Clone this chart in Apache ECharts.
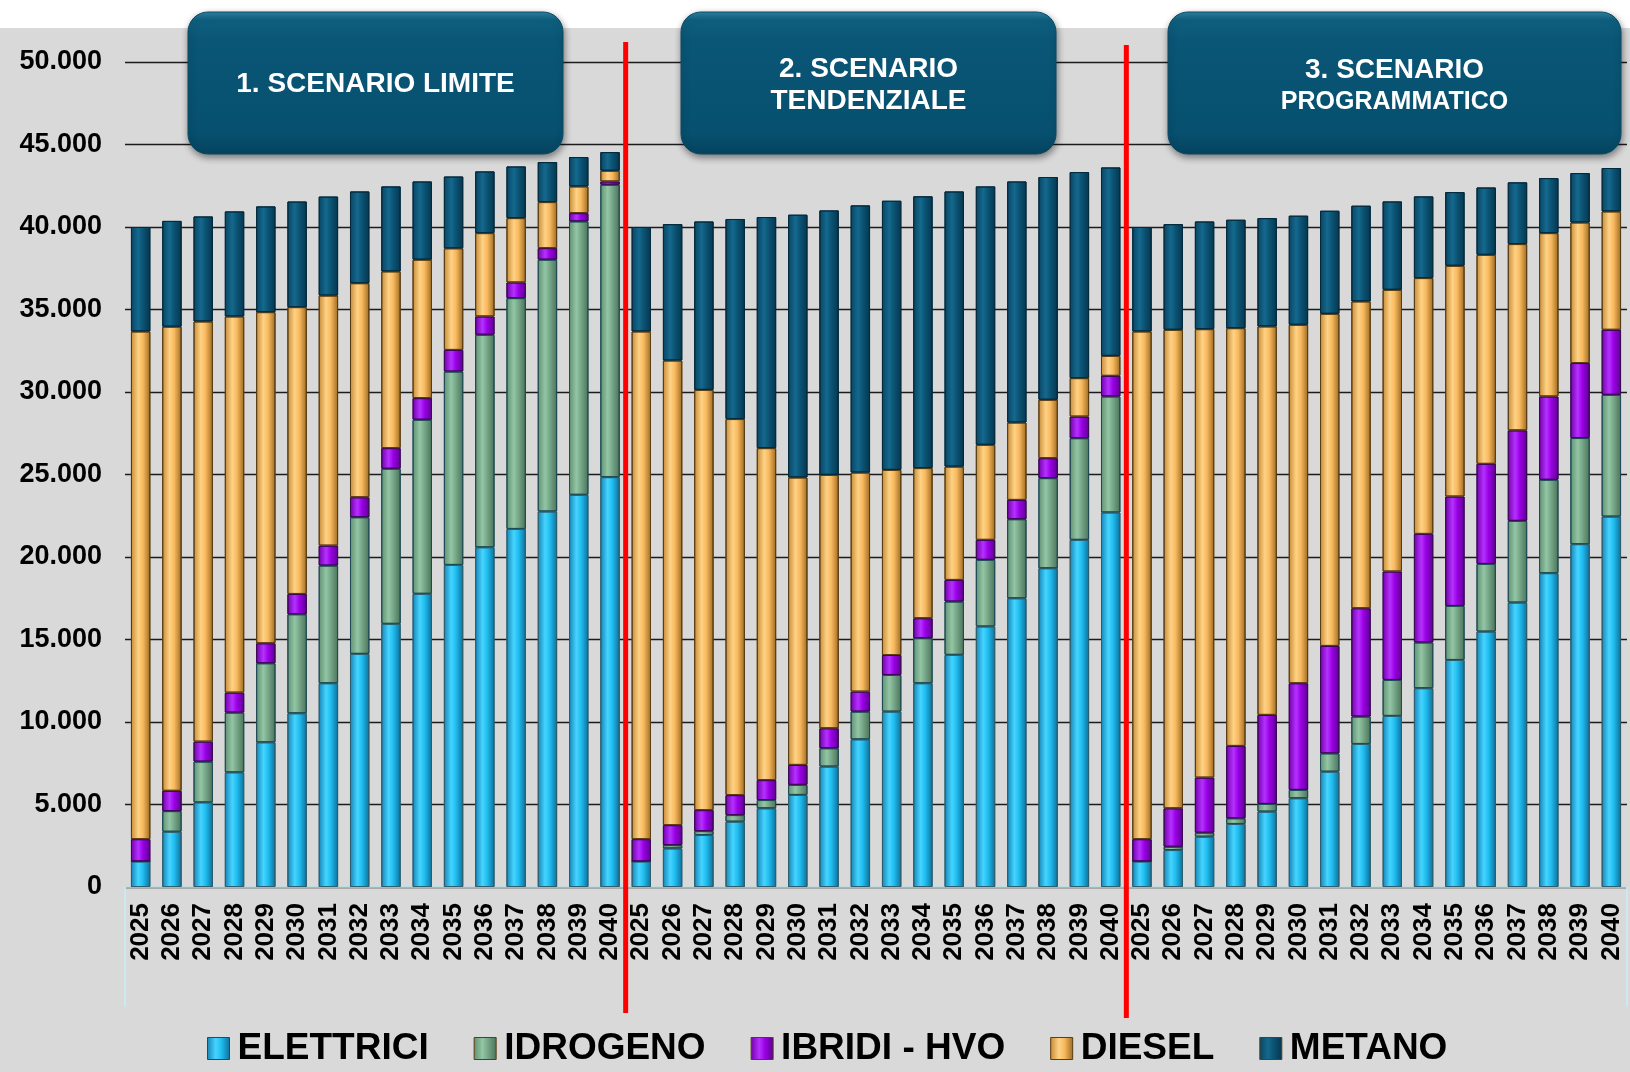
<!DOCTYPE html>
<html>
<head>
<meta charset="utf-8">
<title>Scenari parco veicoli</title>
<script src="https://cdn.jsdelivr.net/npm/echarts@6/dist/echarts.min.js"></script>
<style>
  html, body { margin: 0; padding: 0; background: #ffffff; }
  #chart { width: 1630px; height: 1072px; }
</style>
</head>
<body>
<div id="chart"></div>
<script>
// Years shown in every scenario block
const years = ['2025','2026','2027','2028','2029','2030','2031','2032',
               '2033','2034','2035','2036','2037','2038','2039','2040'];

const scenarioTitles = ['1. SCENARIO LIMITE', '2. SCENARIO', '3. SCENARIO'];
const scenarioSubtitles = ['', 'TENDENZIALE', 'PROGRAMMATICO'];

const seriesNames = ['ELETTRICI', 'IDROGENO', 'IBRIDI - HVO', 'DIESEL', 'METANO'];

// 1. Scenario limite
const elettriciLimite = [1550, 3350, 5130, 6950, 8770, 10530, 12350, 14130, 15950, 17770, 19520, 20590, 21700, 22760, 23770, 24840];
const idrogenoLimite  = [0, 1250, 2470, 3620, 4790, 6000, 7130, 8280, 9400, 10550, 11720, 12880, 13990, 15260, 16570, 17720];
const ibridiLimite    = [1350, 1230, 1210, 1210, 1210, 1230, 1210, 1210, 1250, 1310, 1310, 1110, 950, 700, 500, 200];
const dieselLimite    = [30770, 28130, 25465, 22800, 20070, 17385, 15155, 12975, 10710, 8390, 6160, 5050, 3900, 2790, 1620, 650];
const metanoLimite    = [6330, 6410, 6365, 6365, 6410, 6400, 6000, 5560, 5150, 4740, 4350, 3740, 3130, 2425, 1780, 1130];

// 2. Scenario tendenziale
const elettriciTendenziale = [1550, 2340, 3150, 3960, 4770, 5580, 7300, 8950, 10630, 12350, 14070, 15790, 17500, 19320, 21040, 22700];
const idrogenoTendenziale  = [0, 200, 240, 400, 500, 610, 1110, 1680, 2220, 2730, 3230, 4040, 4790, 5460, 6160, 7030];
const ibridiTendenziale    = [1350, 1210, 1270, 1210, 1210, 1210, 1210, 1210, 1210, 1210, 1310, 1210, 1170, 1210, 1310, 1250];
const dieselTendenziale    = [30770, 28160, 25470, 22790, 20120, 17420, 15360, 13280, 11220, 9100, 6870, 5760, 4690, 3540, 2330, 1210];
const metanoTendenziale    = [6330, 8265, 10205, 12125, 14005, 15925, 16025, 16190, 16310, 16470, 16675, 15660, 14610, 13500, 12490, 11420];

// 3. Scenario programmatico
const elettriciProgrammatico = [1550, 2240, 3050, 3820, 4570, 5380, 6990, 8670, 10370, 12050, 13760, 15480, 17240, 19020, 20780, 22450];
const idrogenoProgrammatico  = [0, 200, 240, 345, 465, 505, 1110, 1660, 2180, 2770, 3275, 4100, 4950, 5660, 6430, 7380];
const ibridiProgrammatico    = [1350, 2330, 3340, 4385, 5395, 6465, 6510, 6565, 6570, 6580, 6630, 6065, 5485, 5050, 4545, 3940];
const dieselProgrammatico    = [30770, 29000, 27180, 25320, 23545, 21725, 20130, 18595, 17075, 15505, 13985, 12670, 11290, 9900, 8520, 7175];
const metanoProgrammatico    = [6330, 6405, 6525, 6570, 6565, 6610, 6245, 5800, 5355, 4950, 4465, 4080, 3740, 3335, 2995, 2630];

// Value axis range
const yMin = 0, yMax = 50000, yStep = 5000;

// ---------------------------------------------------------------------------
const FONT = "'Liberation Sans', Arial, Helvetica, sans-serif";

// one category per scenario/year pair, label shows the year only
const categories = [];
scenarioTitles.forEach((t, s) => years.forEach(y => categories.push((s + 1) + '|' + y)));

const seriesValues = [
  elettriciLimite.concat(elettriciTendenziale, elettriciProgrammatico),
  idrogenoLimite.concat(idrogenoTendenziale, idrogenoProgrammatico),
  ibridiLimite.concat(ibridiTendenziale, ibridiProgrammatico),
  dieselLimite.concat(dieselTendenziale, dieselProgrammatico),
  metanoLimite.concat(metanoTendenziale, metanoProgrammatico)
];

// edge / highlight / body / dark edge for a rounded, tube-like bar
const palettes = [
  ['#1483b5', '#46d4ff', '#1fbdf0', '#0f6e98'],
  ['#5f8f72', '#93c6a4', '#76a688', '#4a7258'],
  ['#7000a8', '#b531ff', '#9a00e6', '#5c008c'],
  ['#c48a36', '#ffd285', '#f8b95e', '#9c6a22'],
  ['#0a4462', '#14698e', '#0b5373', '#06364f']
];
const borderColors = ['#2c5f70', '#1f4b55', '#3a0a55', '#5a3d12', '#042a3d'];

function tube(p) {
  return new echarts.graphic.LinearGradient(0, 0, 1, 0, [
    { offset: 0, color: p[0] },
    { offset: 0.38, color: p[1] },
    { offset: 0.62, color: p[2] },
    { offset: 1, color: p[3] }
  ]);
}

const series = seriesNames.map((name, i) => ({
  name: name,
  type: 'bar',
  stack: 'veicoli',
  barWidth: '62%',
  data: seriesValues[i],
  itemStyle: {
    color: tube(palettes[i]),
    borderColor: borderColors[i],
    borderWidth: 1
  },
  emphasis: { disabled: true }
}));

function itNumber(v) {
  return String(v).replace(/\B(?=(\d{3})+(?!\d))/g, '.');
}

const chart = echarts.init(document.getElementById('chart'), null, { renderer: 'canvas' });

const GRID = { left: 125, right: 3, top: 62, bottom: 185 };

chart.setOption({
  animation: false,
  backgroundColor: '#d9d9d9',
  textStyle: { fontFamily: FONT },
  grid: GRID,
  legend: {
    data: seriesNames,
    left: 202,
    top: 1025,
    icon: 'rect',
    itemWidth: 22,
    itemHeight: 22,
    itemGap: 45,
    itemStyle: { borderColor: '#5a3d12', borderWidth: 1 },
    textStyle: { fontFamily: FONT, fontSize: 37, fontWeight: 'bold', color: '#000', padding: [0, 0, 0, 3] }
  },
  xAxis: {
    type: 'category',
    data: categories,
    axisLine: { show: true, lineStyle: { color: '#c8eef7', width: 1.5 } },
    axisTick: { show: false },
    axisLabel: {
      interval: 0,
      rotate: 90,
      margin: 16,
      fontFamily: FONT,
      fontSize: 26,
      fontWeight: 'bold',
      color: '#000',
      formatter: v => v.split('|')[1]
    }
  },
  yAxis: {
    type: 'value',
    min: yMin,
    max: yMax,
    interval: yStep,
    axisLine: { show: false },
    axisTick: { show: false },
    splitLine: { lineStyle: { color: '#1c1c1c', width: 1.4 } },
    axisLabel: {
      margin: 23,
      fontFamily: FONT,
      fontSize: 27,
      fontWeight: 'bold',
      color: '#000',
      formatter: v => itNumber(v)
    }
  },
  series: series
});

// ---- decorations: top strip, scenario banners, separators, axis frame ----
const W = chart.getWidth();
const H = chart.getHeight();
const xAxisY = H - GRID.bottom;

function catX(i) { return chart.convertToPixel({ xAxisIndex: 0 }, i); }
const sep1 = (catX(15) + catX(16)) / 2;
const sep2 = (catX(31) + catX(32)) / 2;

function bannerFill() {
  return new echarts.graphic.LinearGradient(0, 0, 0, 1, [
    { offset: 0, color: '#2f86a6' },
    { offset: 0.06, color: '#0f5f80' },
    { offset: 0.2, color: '#0a5676' },
    { offset: 0.85, color: '#07506f' },
    { offset: 1, color: '#05445f' }
  ]);
}

const banners = [
  { x: 188, w: 375 },
  { x: 681, w: 375 },
  { x: 1168, w: 453 }
];
const bannerTop = 12, bannerH = 142;

const graphics = [
  { type: 'rect', z: 0, shape: { x: 0, y: 0, width: W, height: 28 }, style: { fill: '#ffffff' } },
  // category axis frame
  { type: 'line', z: 1, shape: { x1: GRID.left, y1: xAxisY, x2: GRID.left, y2: xAxisY + 120 }, style: { stroke: '#c8eef7', lineWidth: 1.5 } },
  { type: 'line', z: 1, shape: { x1: W - GRID.right, y1: xAxisY, x2: W - GRID.right, y2: xAxisY + 120 }, style: { stroke: '#c8eef7', lineWidth: 1.5 } },
  // scenario separators
  { type: 'line', z: 60, shape: { x1: sep1, y1: 42, x2: sep1, y2: 1013 }, style: { stroke: '#ff0000', lineWidth: 5 } },
  { type: 'line', z: 60, shape: { x1: sep2, y1: 45, x2: sep2, y2: 1018 }, style: { stroke: '#ff0000', lineWidth: 5 } }
];

banners.forEach((b, i) => {
  graphics.push({
    type: 'rect', z: 50,
    shape: { x: b.x, y: bannerTop, width: b.w, height: bannerH, r: 20 },
    style: {
      fill: bannerFill(),
      stroke: '#0c4a64', lineWidth: 1,
      shadowBlur: 7, shadowColor: 'rgba(0,0,0,0.45)', shadowOffsetX: 1, shadowOffsetY: 3
    }
  });
  const cx = b.x + b.w / 2, cy = bannerTop + bannerH / 2;
  if (!scenarioSubtitles[i]) {
    graphics.push({
      type: 'text', z: 51, x: cx, y: cy + 1,
      style: { text: scenarioTitles[i], fill: '#fff', font: 'bold 28px ' + FONT, align: 'center', verticalAlign: 'middle' }
    });
  } else {
    graphics.push({
      type: 'text', z: 51, x: cx, y: cy - 14 + (i === 2 ? 1 : 0),
      style: { text: scenarioTitles[i], fill: '#fff', font: 'bold 28px ' + FONT, align: 'center', verticalAlign: 'middle' }
    });
    graphics.push({
      type: 'text', z: 51, x: cx, y: cy + 18 + (i === 2 ? 1 : 0),
      style: { text: scenarioSubtitles[i], fill: '#fff', font: 'bold ' + (i === 2 ? 25 : 28) + 'px ' + FONT, align: 'center', verticalAlign: 'middle' }
    });
  }
});

chart.setOption({ graphic: { elements: graphics } });
</script>
</body>
</html>
